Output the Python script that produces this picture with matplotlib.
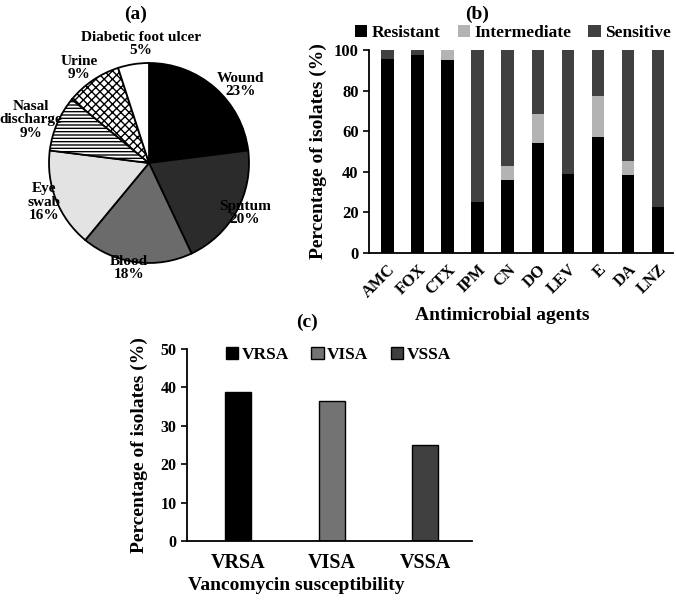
import matplotlib
matplotlib.use("Agg")
import matplotlib.pyplot as plt
import numpy as np

plt.rcParams['font.family'] = ['Liberation Serif', 'DejaVu Serif']
plt.rcParams['font.weight'] = 'bold'
plt.rcParams['hatch.linewidth'] = 1.0

# (a) sample sources
sources = ['Wound', 'Sputum', 'Blood', 'Eye\nswab', 'Nasal\ndischarge', 'Urine', 'Diabetic foot ulcer']
source_pct = [23, 20, 18, 16, 9, 9, 5]

# (b) antimicrobial susceptibility
agents = ['AMC', 'FOX', 'CTX', 'IPM', 'CN', 'DO', 'LEV', 'E', 'DA', 'LNZ']
resistant = [95.5, 97.5, 95.0, 25.0, 36.2, 54.3, 38.8, 56.9, 38.3, 22.7]
intermediate = [0.0, 0.0, 5.0, 0.0, 6.9, 14.0, 0.0, 20.4, 7.1, 0.0]
sensitive = [100 - r - i for r, i in zip(resistant, intermediate)]

# (c) vancomycin
vanco = ['VRSA', 'VISA', 'VSSA']
vanco_pct = [38.7, 36.4, 25.0]

W, H = 677, 600
fig = plt.figure(figsize=(W / 100, H / 100), dpi=100)

def box(l, t, r, b):
    return [l / W, 1 - b / H, (r - l) / W, (b - t) / H]

# ---- (a) pie
ax = fig.add_axes(box(49, 63, 249, 263))
pie_cols = ['black', '#2b2b2b', '#6b6b6b', '#e3e3e3', 'white', 'white', 'white']
hatches = [None, None, None, None, '-----', 'xxxx', None]
wedges, _ = ax.pie(source_pct, colors=pie_cols, startangle=90, counterclock=False,
                   wedgeprops=dict(edgecolor='black', linewidth=1.3))
for w, h in zip(wedges, hatches):
    if h:
        w.set_hatch(h)
label_xy = [(0.92, 0.78), (0.96, -0.50), (-0.20, -1.05), (-1.05, -0.39),
            (-1.18, 0.43), (-0.70, 0.95), (-0.08, 1.19)]
for name, p, (x, y) in zip(sources, source_pct, label_xy):
    ax.text(x, y, f'{name}\n{p}%', ha='center', va='center', fontsize=11,
            fontweight='bold', linespacing=1.05)
ax.set_xlim(-1, 1)
ax.set_ylim(-1, 1)
ax.set_aspect('equal')
fig.text(136 / W, 1 - 14 / H, '(a)', ha='center', va='center', fontsize=14, fontweight='bold')

# ---- (b) stacked bars
ax2 = fig.add_axes(box(369, 50, 673, 253))
x = np.arange(len(agents))
bw = 0.42
ax2.bar(x, resistant, bw, color='black', label='Resistant')
ax2.bar(x, intermediate, bw, bottom=resistant, color='#b3b3b3', label='Intermediate')
ax2.bar(x, sensitive, bw, bottom=np.array(resistant) + np.array(intermediate),
        color='#404040', label='Sensitive')
ax2.set_ylim(0, 100)
ax2.set_xlim(-0.62, len(agents) - 0.5)
ax2.set_yticks(range(0, 101, 20))
ax2.set_xticks(x)
ax2.set_xticklabels(agents, rotation=45, ha='right', rotation_mode='anchor',
                    fontsize=12, fontweight='bold')
ax2.tick_params(axis='y', labelsize=12, length=4, width=1.2)
ax2.tick_params(axis='x', length=0, pad=6)
for s in ['top', 'right']:
    ax2.spines[s].set_visible(False)
for s in ['left', 'bottom']:
    ax2.spines[s].set_linewidth(1.3)
ax2.set_ylabel('Percentage of isolates (%)', fontsize=14, fontweight='bold', labelpad=5)
ax2.set_xlabel('Antimicrobial agents', fontsize=14, fontweight='bold')
ax2.xaxis.set_label_coords((502 - 369) / 304, -(316 - 253) / 203)
ax2.xaxis.label.set_verticalalignment('center')
ax2.legend(loc='center left', bbox_to_anchor=((355 - 369) / 304, 1 + 17 / 203), ncol=3,
           frameon=False, prop={'size': 12.5, 'weight': 'bold'}, handlelength=0.7,
           handleheight=0.7, handletextpad=0.25, columnspacing=1.0,
           borderaxespad=0, borderpad=0)
fig.text(477 / W, 1 - 14 / H, '(b)', ha='center', va='center', fontsize=14, fontweight='bold')

# ---- (c) vancomycin bars
ax3 = fig.add_axes(box(187, 349, 472, 541))
x3 = np.arange(len(vanco))
ax3.bar(x3, vanco_pct, 0.28, color=['black', '#737373', '#404040'], edgecolor='black',
        linewidth=1.0, label=vanco)
ax3.set_ylim(0, 50)
ax3.set_xlim(-0.55, 2.5)
ax3.set_yticks(range(0, 51, 10))
ax3.set_xticks(x3)
ax3.set_xticklabels(vanco, fontsize=14.5, fontweight='bold')
ax3.tick_params(axis='y', labelsize=11.5, length=4, width=1.2)
ax3.tick_params(axis='x', length=0, pad=9)
for s in ['top', 'right']:
    ax3.spines[s].set_visible(False)
for s in ['left', 'bottom']:
    ax3.spines[s].set_linewidth(1.3)
ax3.set_ylabel('Percentage of isolates (%)', fontsize=14, fontweight='bold', labelpad=9)
ax3.set_xlabel('Vancomycin susceptibility', fontsize=14, fontweight='bold')
ax3.xaxis.set_label_coords((188 - 187) / 285, -(586 - 541) / 192)
ax3.xaxis.label.set_horizontalalignment('left')
ax3.xaxis.label.set_verticalalignment('center')
ax3.legend(loc='center left', bbox_to_anchor=((226 - 187) / 285, 1 - 6 / 192), ncol=3,
           frameon=False, prop={'size': 12.5, 'weight': 'bold'}, handlelength=0.7,
           handleheight=0.7, handletextpad=0.2, columnspacing=1.3,
           borderaxespad=0, borderpad=0)
fig.text(307 / W, 1 - 322 / H, '(c)', ha='center', va='center', fontsize=14, fontweight='bold')

fig.savefig('out.png', dpi=100)
